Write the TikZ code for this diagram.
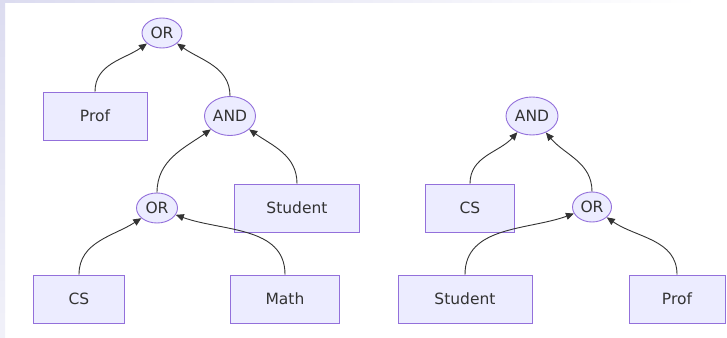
\documentclass[tikz,border=0pt]{standalone}
\usepackage{fontspec}
\setmainfont{DejaVu Sans}
\usetikzlibrary{shapes.geometric,arrows.meta}
\definecolor{boxfill}{HTML}{ECECFF}
\definecolor{boxline}{HTML}{9370DB}
\definecolor{ink}{HTML}{333333}
\definecolor{side}{HTML}{DCDCF0}
\begin{document}
\begin{tikzpicture}[
			x=1pt,y=1pt,
			font=\fontsize{15.5}{18}\selectfont,
			leaf/.style={draw=boxline,fill=boxfill,text=ink,line width=0.9pt,
				minimum height=48pt,inner sep=0pt},
			gate/.style={ellipse,draw=boxline,fill=boxfill,text=ink,line width=0.9pt,
				minimum height=30pt,inner sep=0pt},
			edge/.style={draw=ink,line width=0.9pt,-{Triangle[length=8pt,width=7pt]}}
		]
		\useasboundingbox (0,0) rectangle (727,337);
		\fill[white] (0,0) rectangle (727,337);
		\shade[top color=side,bottom color=side!40] (0,0) rectangle (5,337);
		\shade[left color=side,right color=white] (5,334) rectangle (700,337);
		% left tree
		\node[gate,minimum width=40pt] (or1) at (162,304) {OR};
		\node[leaf,minimum width=104pt] (prof1) at (95,221) {Prof};
		\node[gate,minimum width=51pt,minimum height=39pt] (and1) at (230,221) {AND};
		\node[gate,minimum width=41pt] (or2) at (157,129) {OR};
		\node[leaf,minimum width=125pt] (student1) at (297,129) {Student};
		\node[leaf,minimum width=91pt] (cs1) at (79,38) {CS};
		\node[leaf,minimum width=109pt] (math1) at (285,38) {Math};
		\draw[edge] (prof1.north) to[out=90,in=215] (or1);
		\draw[edge] (and1.north) to[out=90,in=325] (or1);
		\draw[edge] (or2.north) to[out=90,in=215] (and1);
		\draw[edge] (student1.north) to[out=90,in=325] (and1);
		\draw[edge] (cs1.north) to[out=90,in=213] (or2);
		\draw[edge] (math1.north) to[out=90,in=340] (or2);
		% right tree
		\node[gate,minimum width=52pt,minimum height=38pt] (and2) at (532,221) {AND};
		\node[leaf,minimum width=89pt] (cs2) at (470,129) {CS};
		\node[gate,minimum width=39pt] (or3) at (592,130) {OR};
		\node[leaf,minimum width=134pt] (student2) at (465,38) {Student};
		\node[leaf,minimum width=96pt] (prof2) at (677,38) {Prof};
		\draw[edge] (cs2.north) to[out=90,in=228] (and2);
		\draw[edge] (or3.north) to[out=90,in=310] (and2);
		\draw[edge] (student2.north) to[out=90,in=200] (or3);
		\draw[edge] (prof2.north) to[out=90,in=325] (or3);
	\end{tikzpicture}
\end{document}
